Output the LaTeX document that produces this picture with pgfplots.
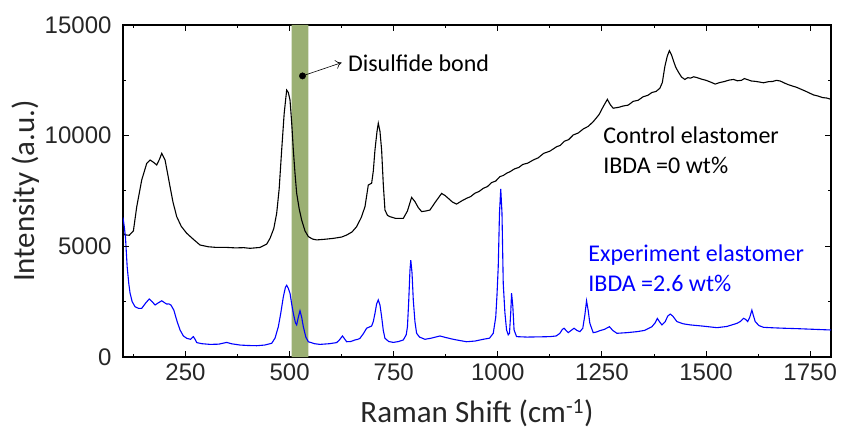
\documentclass[border=0pt]{standalone}
\usepackage{fontspec}
\setmainfont{Carlito}
\newfontfamily\arialfont{Liberation Sans}
\usepackage{pgfplots}
\pgfplotsset{compat=1.18}
\usepackage{pgfplotstable}
\usetikzlibrary{arrows.meta}

\definecolor{bandgreen}{RGB}{155,176,115}

% Raman spectrum of the control elastomer (IBDA = 0 wt%)
\pgfplotstableread{
x y
100 5600
105 5520
115 5500
125 5700
133 6790
145 8000
157 8750
165 8900
173 8800
181 8675
188 8950
193 9200
201 8900
207 8300
213 7690
220 7000
229 6340
240 5900
253 5590
270 5300
285 5060
305 4980
325 4950
350 4950
370 4930
390 4940
405 4910
429 4950
445 5100
453 5360
462 5800
469 6490
475 7600
481 9350
487 11000
493 12060
497 11950
501 11610
505 10600
509 9350
513 8300
517 7400
523 6700
529 6190
537 5700
545 5440
555 5330
565 5290
585 5320
605 5360
625 5420
637 5510
650 5650
661 5890
672 6300
681 6790
689 7770
697 7850
701 8400
705 9350
710 10200
713 10560
717 10200
721 9350
725 7800
729 6640
735 6400
741 6340
755 6260
773 6260
783 6600
793 7210
801 7020
809 6750
817 6570
828 6600
837 6640
850 7000
865 7390
873 7300
881 7170
891 7000
901 6910
913 7050
925 7170
935 7250
945 7400
955 7480
965 7620
975 7700
985 7880
995 7950
1005 8150
1013 8200
1021 8300
1030 8380
1040 8500
1050 8560
1060 8700
1072 8760
1085 8900
1097 9000
1110 9200
1125 9300
1141 9500
1150 9560
1160 9750
1170 9820
1181 10030
1193 10120
1205 10300
1217 10420
1229 10630
1243 10950
1253 11310
1263 11640
1270 11400
1277 11240
1290 11280
1301 11340
1313 11380
1325 11550
1337 11600
1349 11760
1360 11820
1370 11950
1380 12000
1389 12140
1395 12400
1401 13120
1407 13600
1412 13840
1417 13650
1421 13420
1427 13100
1433 12890
1441 12650
1449 12540
1456 12620
1463 12600
1470 12660
1477 12630
1488 12560
1500 12500
1511 12420
1522 12330
1533 12400
1545 12450
1555 12510
1566 12540
1575 12480
1585 12500
1592 12580
1598 12540
1609 12470
1620 12450
1629 12420
1638 12390
1650 12440
1660 12450
1669 12500
1678 12470
1688 12380
1698 12300
1708 12240
1718 12180
1729 12090
1740 12000
1749 11920
1758 11840
1769 11790
1780 11720
1790 11700
1800 11640
}\controldata

% Raman spectrum of the experiment elastomer (IBDA = 2.6 wt%)
\pgfplotstableread{
x y
100 6300
103 5900
106 5400
110 4080
114 3300
117 2880
122 2500
129 2270
137 2200
145 2200
155 2450
163 2620
170 2500
177 2350
185 2450
193 2540
200 2450
205 2390
210 2400
215 2350
222 2120
230 1600
237 1220
245 950
253 845
262 800
269 920
273 800
277 650
290 600
309 570
330 580
349 660
360 600
381 540
400 520
421 510
440 540
457 620
465 850
473 1370
479 2000
485 2720
490 3150
493 3240
497 3100
501 2880
505 2400
509 1970
514 1550
517 1450
521 1800
525 2090
529 1800
533 1370
539 900
545 690
560 600
573 570
595 600
613 650
620 780
627 950
632 820
637 690
647 700
657 770
664 800
669 845
677 1050
685 1300
691 1350
697 1400
701 1600
705 1970
709 2400
713 2580
717 2350
721 1820
725 1200
729 845
738 700
749 660
762 700
773 770
780 1000
783 1370
786 2500
789 3900
791 4380
794 3800
797 2580
801 1600
805 1070
812 900
825 800
840 850
861 950
875 880
893 800
907 750
925 690
945 720
965 800
980 850
989 1070
995 1800
998 2800
1001 4080
1004 6500
1007 7600
1010 6500
1013 3330
1017 2000
1021 1220
1025 1000
1028 1070
1031 2000
1033 2880
1036 2300
1039 1220
1045 920
1070 900
1100 910
1125 920
1140 950
1149 1070
1155 1250
1159 1300
1164 1200
1169 1100
1176 1200
1183 1300
1190 1200
1197 1145
1204 1300
1209 1900
1213 2540
1217 2100
1221 1520
1229 1100
1237 1130
1245 1190
1256 1250
1268 1370
1276 1200
1286 1070
1310 1100
1334 1145
1352 1200
1370 1370
1378 1550
1383 1745
1388 1600
1394 1450
1402 1600
1408 1850
1414 1940
1420 1850
1430 1600
1445 1500
1462 1450
1490 1400
1526 1325
1550 1380
1574 1520
1582 1600
1590 1745
1595 1700
1600 1600
1605 1800
1610 2120
1614 1850
1618 1600
1627 1420
1638 1340
1660 1320
1686 1300
1720 1280
1760 1250
1800 1220
}\experimentdata

\begin{document}
\begin{tikzpicture}
\begin{axis}[
  name=ax,
  scale only axis,
  width=708bp, height=332bp,
  xmin=100, xmax=1800,
  ymin=0, ymax=15000,
  xtick={250,500,...,1750},
  ytick={0,5000,10000,15000},
  minor x tick num=1,
  minor y tick num=1,
  tick align=inside,
  major tick length=6bp,
  minor tick length=3.5bp,
  every tick/.append style={black, line width=1bp},
  axis line style={line width=1.1bp},
  scaled ticks=false,
  /pgf/number format/assume math mode=true,
  /pgf/number format/set thousands separator={},
  ticklabel style={font=\arialfont\fontsize{24bp}{28bp}\selectfont, black!85},
  xticklabel style={yshift=-3bp},
  yticklabel style={xshift=-8bp},
  xlabel={Raman Shift (cm\textsuperscript{-1})},
  ylabel={Intensity (a.u.)},
  label style={font=\fontsize{31bp}{35bp}\selectfont, black!85},
  xlabel style={yshift=-12bp},
  ylabel style={yshift=-2bp},
]
% highlighted disulfide band
\addplot[fill=bandgreen, draw=none] coordinates {(505,0) (505,15000) (545,15000) (545,0)} \closedcycle;

\addplot[black, line width=1.1bp] table[x=x, y=y] {\controldata};
\addplot[blue, line width=1.1bp] table[x=x, y=y] {\experimentdata};

% inward tick marks on all four sides of the frame
\pgfplotsinvokeforeach{250,500,...,1750}{
  \draw[line width=1bp] (axis cs:#1,0) -- ([yshift=6bp]axis cs:#1,0);
  \draw[line width=1bp] (axis cs:#1,15000) -- ([yshift=-6bp]axis cs:#1,15000);
}
\pgfplotsinvokeforeach{125,375,...,1625}{
  \draw[line width=1bp] (axis cs:#1,0) -- ([yshift=3.5bp]axis cs:#1,0);
  \draw[line width=1bp] (axis cs:#1,15000) -- ([yshift=-3.5bp]axis cs:#1,15000);
}
\pgfplotsinvokeforeach{5000,10000}{
  \draw[line width=1bp] (axis cs:100,#1) -- ([xshift=6bp]axis cs:100,#1);
  \draw[line width=1bp] (axis cs:1800,#1) -- ([xshift=-6bp]axis cs:1800,#1);
}
\pgfplotsinvokeforeach{2500,7500,12500}{
  \draw[line width=1bp] (axis cs:100,#1) -- ([xshift=3.5bp]axis cs:100,#1);
  \draw[line width=1bp] (axis cs:1800,#1) -- ([xshift=-3.5bp]axis cs:1800,#1);
}

% disulfide bond marker
\addplot[only marks, mark=*, mark size=3.2bp, black] coordinates {(531,12700)};
\draw[-{To[length=6bp,width=9bp]}, line width=0.6bp] (axis cs:531,12700) -- (axis cs:625,13300);
\node[anchor=base west, font=\fontsize{24bp}{28bp}\selectfont, inner sep=0pt] at (axis cs:640,12890) {Disulfide bond};

% the base anchor of a two-line node sits on its last line
\node[anchor=base west, align=left, font=\fontsize{24bp}{30bp}\selectfont, inner sep=0pt, black] at (axis cs:1253,8313) {Control elastomer\\IBDA =0 wt\%};
\node[anchor=base west, align=left, font=\fontsize{24bp}{30bp}\selectfont, inner sep=0pt, blue] at (axis cs:1217,2937) {Experiment elastomer\\IBDA =2.6 wt\%};
\end{axis}
\path[use as bounding box] (ax.south west) ++(-123bp,-74bp) rectangle ([xshift=13bp,yshift=25bp]ax.north east);
\end{tikzpicture}
\end{document}
